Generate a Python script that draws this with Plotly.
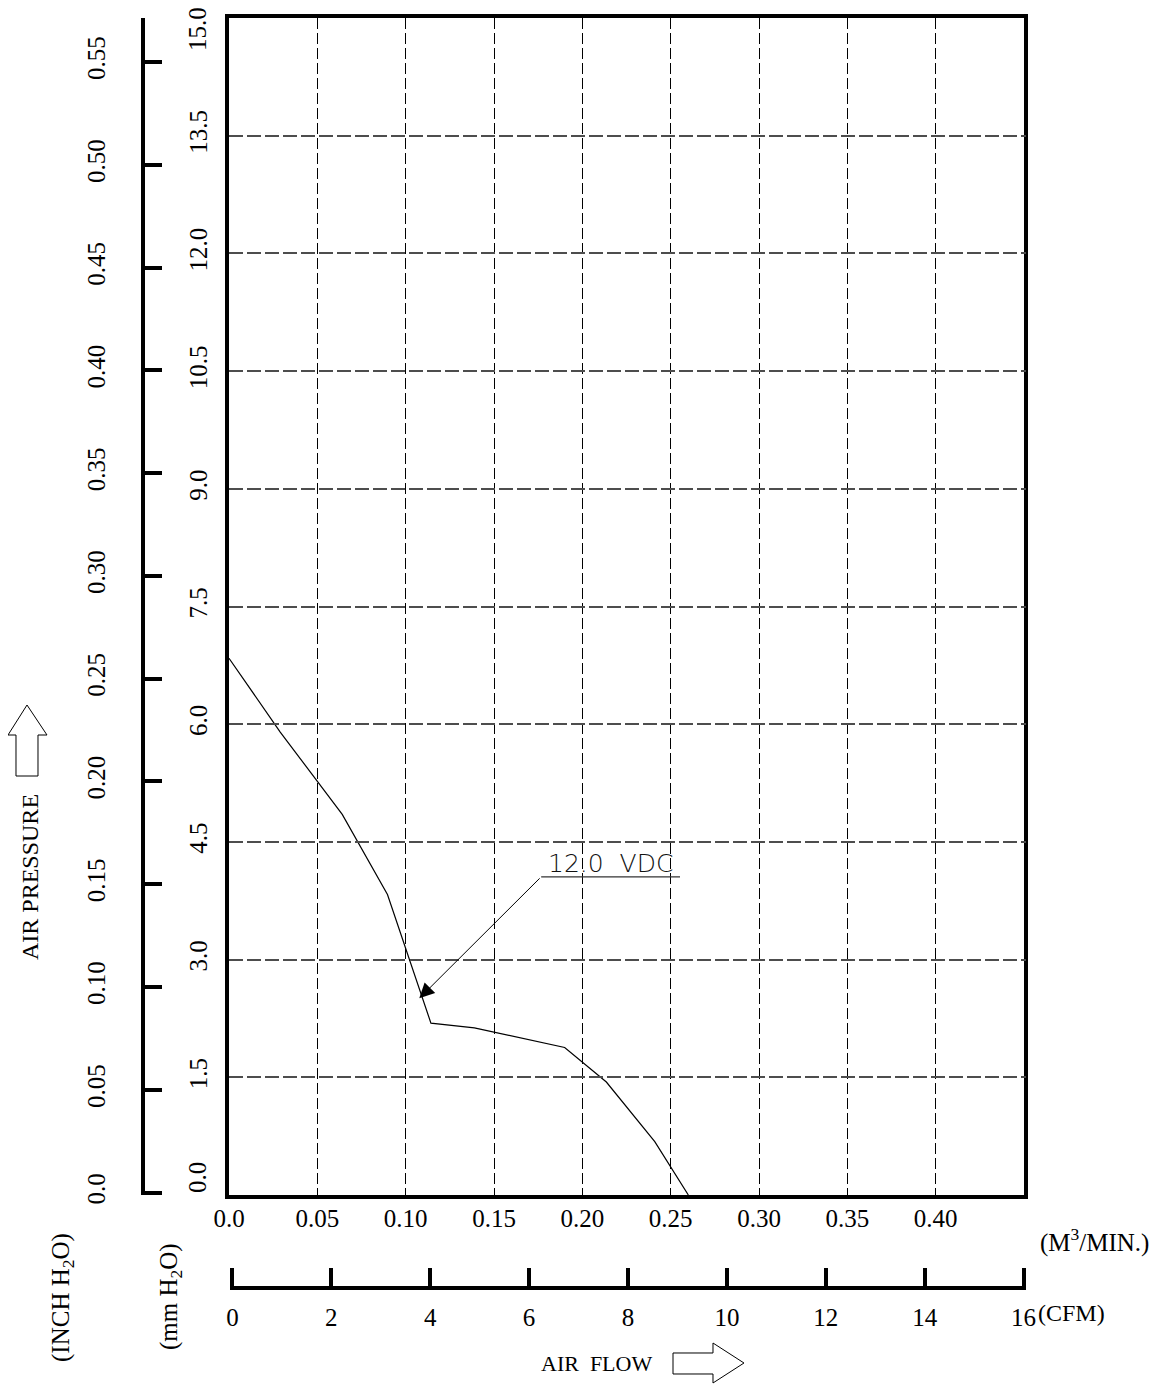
import plotly.graph_objects as go

# ---------------- data ----------------
flow_m3min = [0.0, 0.029, 0.0641, 0.0897, 0.1143, 0.1389, 0.190, 0.2136, 0.241, 0.260]
pressure_mm = [6.84, 5.90, 4.85, 3.83, 2.19, 2.13, 1.88, 1.44, 0.68, 0.0]

x_tick_vals = [0.0, 0.05, 0.10, 0.15, 0.20, 0.25, 0.30, 0.35, 0.40]
x_tick_text = ["0.0", "0.05", "0.10", "0.15", "0.20", "0.25", "0.30", "0.35", "0.40"]

y_tick_vals = [0.0, 1.5, 3.0, 4.5, 6.0, 7.5, 9.0, 10.5, 12.0, 13.5, 15.0]
y_tick_text = ["0.0", "1.5", "3.0", "4.5", "6.0", "7.5", "9.0", "10.5", "12.0", "13.5", "15.0"]

inch_tick_vals = [0.0, 0.05, 0.10, 0.15, 0.20, 0.25, 0.30, 0.35, 0.40, 0.45, 0.50, 0.55]
inch_tick_text = ["0.0", "0.05", "0.10", "0.15", "0.20", "0.25", "0.30", "0.35", "0.40", "0.45", "0.50", "0.55"]

cfm_tick_vals = [0, 2, 4, 6, 8, 10, 12, 14, 16]
cfm_tick_text = ["0", "2", "4", "6", "8", "10", "12", "14", "16"]

curve_label = "12.0&nbsp; VDC"
label_anchor = (0.1767, 4.055)   # start of underline / arrow tail
label_end_x = 0.2553
arrow_tip = (0.1077, 2.506)

# ---------------- layout helpers ----------------
# the page body has an 8px default margin, so the figure is placed at (8, 8)
OFF = 8
W, H = 1159 - OFF, 1386 - OFF
def px(x):
    return (x - OFF) / W
def py(y):
    return 1 - (y - OFF) / H

SERIF = "Liberation Serif"
tick_font = dict(family=SERIF, size=25, color="black")

fig = go.Figure()

fig.add_trace(go.Scatter(x=flow_m3min, y=pressure_mm, mode="lines",
                         line=dict(color="black", width=1.2),
                         showlegend=False, hoverinfo="skip"))
# invisible traces so the secondary axes are drawn
fig.add_trace(go.Scatter(x=[0], y=[0], xaxis="x", yaxis="y2", mode="markers",
                         marker=dict(opacity=0), showlegend=False, hoverinfo="skip"))
fig.add_trace(go.Scatter(x=[0], y=[0], xaxis="x2", yaxis="y", mode="markers",
                         marker=dict(opacity=0), showlegend=False, hoverinfo="skip"))
fig.add_trace(go.Scatter(x=[0], y=[0], xaxis="x", yaxis="y3", mode="markers",
                         marker=dict(opacity=0), showlegend=False, hoverinfo="skip"))

fig.update_layout(
    width=W, height=H,
    margin=dict(l=0, r=0, t=0, b=0, autoexpand=False),
    paper_bgcolor="white", plot_bgcolor="rgba(0,0,0,0)",
    showlegend=False,
    xaxis=dict(
        domain=[px(229), px(1024)], range=[0, 0.45], anchor="y", automargin=False,
        tickmode="array", tickvals=x_tick_vals, ticktext=x_tick_text,
        ticks="", tickfont=tick_font, ticklabelstandoff=-2,
        showgrid=True, gridcolor="black", gridwidth=1, griddash="11px,4px",
        showline=True, linecolor="black", linewidth=4, mirror=True,
        zeroline=False,
    ),
    # main pressure axis: grid + frame
    yaxis=dict(
        domain=[py(1195), py(18)], range=[0, 15], anchor="x", automargin=False,
        tickmode="array", tickvals=y_tick_vals, showticklabels=False,
        ticks="",
        showgrid=True, gridcolor="#4d4d4d", gridwidth=1.6, griddash="13px,5px",
        showline=True, linecolor="black", linewidth=4, mirror=True,
        zeroline=False,
    ),
    # main pressure axis labels (inner ones; the two end labels are nudged inward below)
    yaxis3=dict(
        overlaying="y", anchor="x", side="left", range=[0, 15], automargin=False,
        tickmode="array", tickvals=y_tick_vals[1:-1], ticktext=y_tick_text[1:-1],
        ticks="", tickfont=tick_font, tickangle=-90, ticklabelstandoff=16,
        showgrid=False, zeroline=False, showline=False,
    ),
    yaxis2=dict(
        overlaying="y", anchor="free", position=px(143), side="left", automargin=False,
        range=[-0.0012, 0.5714],
        tickmode="array", tickvals=inch_tick_vals, ticktext=inch_tick_text,
        ticks="inside", ticklen=17, tickwidth=4, tickcolor="black",
        tickfont=tick_font, tickangle=-90, ticklabelstandoff=26,
        showgrid=False, zeroline=False,
        showline=True, linecolor="black", linewidth=4,
    ),
    xaxis2=dict(
        anchor="free", position=py(1288), domain=[px(230), px(1026)], automargin=False,
        range=[-0.05, 16.05], side="bottom",
        tickmode="array", tickvals=cfm_tick_vals, ticktext=cfm_tick_text,
        ticks="inside", ticklen=18, tickwidth=4, tickcolor="black",
        tickfont=tick_font, ticklabelstandoff=6,
        showgrid=False, zeroline=False,
        showline=True, linecolor="black", linewidth=4,
    ),
)

# end labels of the main pressure axis, kept inside the frame height
for v, t, shift in ((y_tick_vals[0], y_tick_text[0], 17), (y_tick_vals[-1], y_tick_text[-1], -11)):
    fig.add_annotation(x=px(197), y=v, xref="paper", yref="y", text=t, showarrow=False,
                       textangle=-90, yshift=shift, xanchor="center", yanchor="middle",
                       font=tick_font)

# curve label with leader arrow
fig.add_annotation(x=arrow_tip[0], y=arrow_tip[1], ax=label_anchor[0], ay=label_anchor[1],
                   xref="x", yref="y", axref="x", ayref="y", text="",
                   showarrow=True, arrowhead=2, arrowsize=3, arrowwidth=1,
                   arrowcolor="black", standoff=0, startstandoff=0)
fig.add_shape(type="line", xref="x", yref="y",
              x0=label_anchor[0], y0=label_anchor[1], x1=label_end_x, y1=label_anchor[1],
              line=dict(color="#333333", width=1.3))
fig.add_annotation(x=label_anchor[0] + 0.003, y=label_anchor[1], xref="x", yref="y",
                   text=curve_label, showarrow=False, xanchor="left", yanchor="bottom",
                   yshift=-3,
                   font=dict(family="DejaVu Sans", size=25, color="#111111", weight=300))

# axis titles / units
def note(text, x, y, angle=0, size=25, xanchor="center", yanchor="middle"):
    fig.add_annotation(text=text, x=px(x), y=py(y), xref="paper", yref="paper",
                       showarrow=False, textangle=angle, xanchor=xanchor, yanchor=yanchor,
                       font=dict(family=SERIF, size=size, color="black"))

note("AIR PRESSURE", 30, 877, angle=-90, size=24)
note("(INCH H<sub>2</sub>O)", 62, 1298, angle=-90, size=25)
note("(mm H<sub>2</sub>O)", 170, 1297, angle=-90, size=25)
note("AIR&nbsp; FLOW", 596, 1363, size=22)
note("(M<sup>3</sup>/MIN.)", 1094, 1240, size=25)
note("(CFM)", 1071, 1313, size=24)

# outline arrows
def path(points):
    return "M " + " L ".join(f"{px(a):.5f},{py(b):.5f}" for a, b in points) + " Z"

up_arrow = [(27, 705), (47, 735), (38, 735), (38, 776), (16, 776), (16, 735), (8, 735)]
right_arrow = [(673, 1353), (713, 1353), (713, 1343), (744, 1363), (713, 1383), (713, 1374), (673, 1374)]
for pts in (up_arrow, right_arrow):
    fig.add_shape(type="path", xref="paper", yref="paper", path=path(pts),
                  line=dict(color="black", width=1), fillcolor="rgba(0,0,0,0)")

fig.write_html("out.html")
